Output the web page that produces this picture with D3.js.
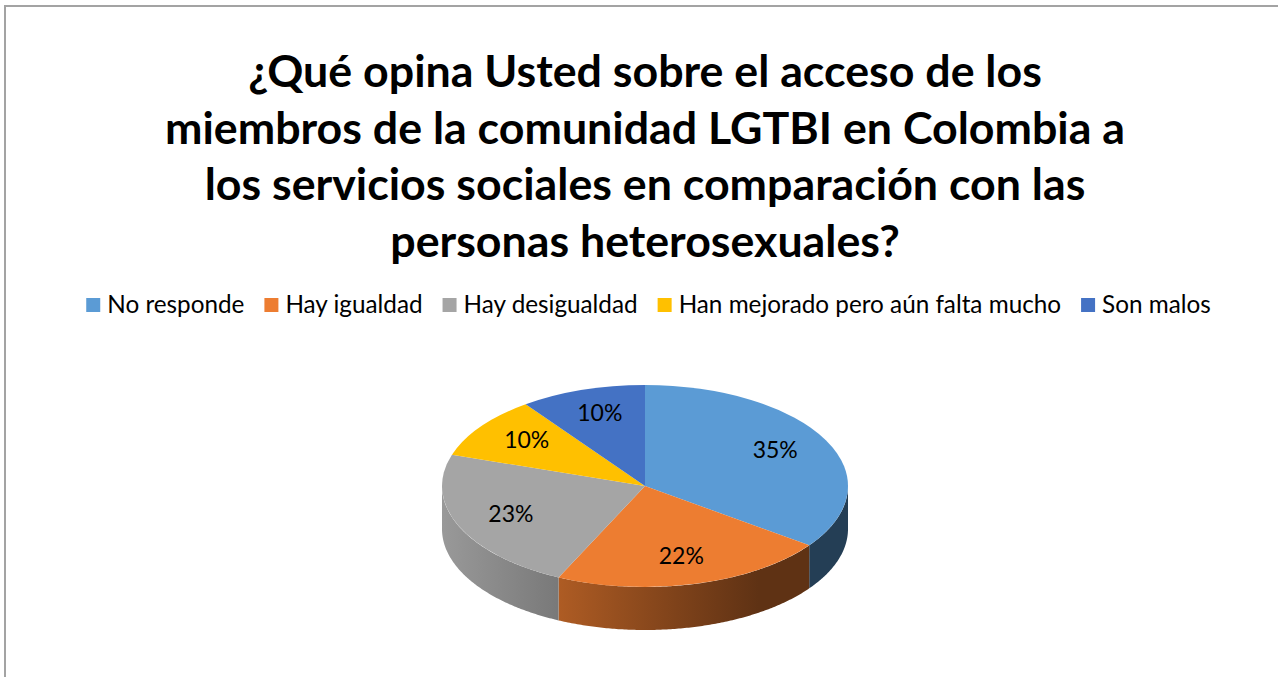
<!DOCTYPE html>
<html>
<head>
<meta charset="utf-8">
<script src="https://cdn.jsdelivr.net/npm/d3@7"></script>
<style>
  html, body { margin: 0; padding: 0; background: #ffffff; }
  svg { display: block; }
</style>
</head>
<body>
<svg id="chart" width="1278" height="677"></svg>
<script>
// ---- data ----
const titleLines = [
  "¿Qué opina Usted sobre el acceso de los",
  "miembros de la comunidad LGTBI en Colombia a",
  "los servicios sociales en comparación con las",
  "personas heterosexuales?"
];
const categories = ["No responde", "Hay igualdad", "Hay desigualdad", "Han mejorado pero aún falta mucho", "Son malos"];
const values = [35, 22, 23, 10, 10];
const palette = ["#5B9BD5", "#ED7D31", "#A5A5A5", "#FFC000", "#4472C4"];

// ---- layout ----
const W = 1278, H = 677;
const svg = d3.select("#chart");
const FONT = "Lato, 'Open Sans', 'DejaVu Sans', sans-serif";

// frame
svg.append("rect")
  .attr("x", 5).attr("y", 6).attr("width", W + 20).attr("height", H + 20)
  .attr("fill", "none").attr("stroke", "#a3a3a3").attr("stroke-width", 2);

// title
const titleCx = 645;
const titleBase = 87, titleStep = 56.5;
const titleG = svg.append("g");
const tTexts = titleG.selectAll("text").data(titleLines).join("text")
  .attr("x", titleCx)
  .attr("y", (d, i) => titleBase + i * titleStep)
  .attr("text-anchor", "middle")
  .attr("font-family", FONT)
  .attr("font-weight", "bold")
  .attr("font-size", 40)
  .attr("fill", "#000")
  .text(d => d);
{
  const w = tTexts.nodes()[1].getComputedTextLength();
  const fs = 40 * 960 / w;
  tTexts.attr("font-size", fs);
}

// legend
const color = d3.scaleOrdinal().domain(categories).range(palette);
const sq = 14, gapText = 7, gapItem = 20;
const legendBase = 313;
const legendG = svg.append("g");
const items = legendG.selectAll("g").data(categories).join("g");
items.append("rect")
  .attr("width", sq).attr("height", sq)
  .attr("y", legendBase - 15)
  .attr("fill", d => color(d));
const lt = items.append("text")
  .attr("y", legendBase)
  .attr("font-family", FONT)
  .attr("font-size", 22)
  .attr("fill", "#000")
  .text(d => d);
function layoutLegend(fs) {
  lt.attr("font-size", fs);
  let x = 0;
  const pos = [];
  lt.nodes().forEach((n, i) => {
    pos.push(x);
    x += sq + gapText + n.getComputedTextLength() + (i < categories.length - 1 ? gapItem : 0);
  });
  return { pos, total: x };
}
let L = layoutLegend(22);
const targetW = 1211 - 86;
const textW = L.total - categories.length * (sq + gapText) - (categories.length - 1) * gapItem;
const fsLeg = 22 * (targetW - (L.total - textW)) / textW;
L = layoutLegend(fsLeg);
const legStart = 648.5 - L.total / 2;
items.attr("transform", (d, i) => `translate(${legStart + L.pos[i]},0)`);
lt.attr("x", sq + gapText);

// pie
const cx = 645, cy = 486, rx = 203, ry = 101, depth = 43;
const pie = d3.pie().sort(null).value(d => d.v);
const arcsData = pie(categories.map((c, i) => ({ c, v: values[i] })));

const defs = svg.append("defs");
const shadeOffsets = [0, 0.25, 0.58, 0.78, 1];
const shadeFactors = [0.93, 0.76, 0.53, 0.40, 0.40];
arcsData.forEach((a, i) => {
  const base = d3.rgb(color(a.data.c));
  const g = defs.append("linearGradient")
    .attr("id", "side" + i)
    .attr("gradientUnits", "userSpaceOnUse")
    .attr("x1", cx - rx).attr("x2", cx + rx).attr("y1", 0).attr("y2", 0);
  shadeOffsets.forEach((o, k) => {
    const f = shadeFactors[k];
    g.append("stop").attr("offset", o)
      .attr("stop-color", d3.rgb(base.r * f, base.g * f, base.b * f).formatHex());
  });
});

const ex = t => cx + rx * Math.sin(t);
const ey = t => cy - ry * Math.cos(t);
const line = d3.line();
const sideG = svg.append("g");
arcsData.forEach((a, i) => {
  const s = Math.max(a.startAngle, Math.PI / 2);
  const e = Math.min(a.endAngle, 3 * Math.PI / 2);
  if (s >= e) return;
  const n = Math.max(2, Math.ceil((e - s) / 0.01));
  const ts = d3.range(n + 1).map(k => s + (e - s) * k / n);
  const top = ts.map(t => [ex(t), ey(t)]);
  const bot = ts.slice().reverse().map(t => [ex(t), ey(t) + depth]);
  sideG.append("path")
    .attr("d", line(top.concat(bot)) + "Z")
    .attr("fill", `url(#side${i})`);
});

const arc = d3.arc().innerRadius(0).outerRadius(rx);
svg.append("g")
  .attr("transform", `translate(${cx},${cy}) scale(1,${ry / rx})`)
  .selectAll("path").data(arcsData).join("path")
  .attr("d", arc)
  .attr("fill", d => color(d.data.c));

// labels
const fmt = d3.format(".0%");
const total = d3.sum(values);
const lfx = 0.72, lfy = 0.74;
svg.append("g").selectAll("text").data(arcsData).join("text")
  .attr("x", d => cx + lfx * rx * Math.sin((d.startAngle + d.endAngle) / 2))
  .attr("y", d => cy - lfy * ry * Math.cos((d.startAngle + d.endAngle) / 2) - 2)
  .attr("dy", "0.35em")
  .attr("text-anchor", "middle")
  .attr("font-family", FONT)
  .attr("font-size", 23)
  .attr("fill", "#000")
  .text(d => fmt(d.data.v / total));
</script>
</body>
</html>
